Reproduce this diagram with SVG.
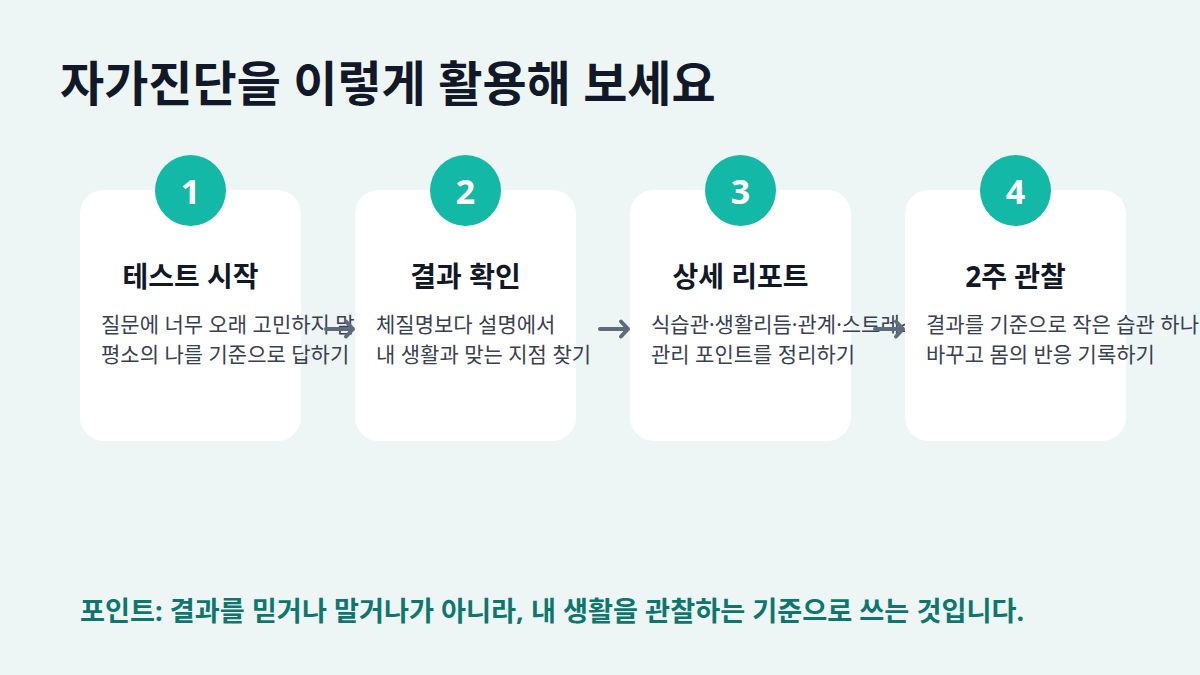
<svg xmlns="http://www.w3.org/2000/svg" width="1200" height="675" viewBox="0 0 1200 675">
<defs>
<style>
.bg{fill:#eef6f5}
.card{fill:#ffffff}
.badge{fill:#14b8a6}
.num{font-family:"Noto Sans","Noto Sans CJK KR",sans-serif;font-weight:700;font-size:34px;fill:#ffffff;text-anchor:middle}
.h1{font-family:"Noto Sans","Noto Sans CJK KR",sans-serif;font-weight:700;font-size:48px;fill:#111827}
.ct{font-family:"Noto Sans","Noto Sans CJK KR",sans-serif;font-weight:700;font-size:28px;fill:#111827;text-anchor:middle}
.body{font-family:"Noto Sans","Noto Sans CJK KR",sans-serif;font-weight:400;font-size:21px;fill:#374151}
.foot{font-family:"Noto Sans","Noto Sans CJK KR",sans-serif;font-weight:700;font-size:27.2px;fill:#0f766e}
.arrow{fill:none;stroke:#5f6b7c;stroke-width:4;stroke-linecap:round;stroke-linejoin:round}
</style>
</defs>
<rect class="bg" x="0" y="0" width="1200" height="675"/>
<text class="h1" x="60" y="101">자가진단을 이렇게 활용해 보세요</text>
<g id="node1">
<rect class="card" x="80" y="190" width="221" height="251" rx="24"/>
<circle class="badge" cx="190.5" cy="190.5" r="35.5"/>
<text class="num" x="190.5" y="204">1</text>
<text class="ct" x="190.5" y="287">테스트 시작</text>
<text class="body" x="101" y="332">질문에 너무 오래 고민하지 말고</text>
<text class="body" x="101" y="362">평소의 나를 기준으로 답하기</text>
</g>
<g id="connectors1">
<path class="arrow" d="M326 329 H353 M346 321.5 L353 329 L346 336.5"/>
</g>
<g id="node2">
<rect class="card" x="355" y="190" width="221" height="251" rx="24"/>
<circle class="badge" cx="465.5" cy="190.5" r="35.5"/>
<text class="num" x="465.5" y="204">2</text>
<text class="ct" x="465.5" y="287">결과 확인</text>
<text class="body" x="376" y="332">체질명보다 설명에서</text>
<text class="body" x="376" y="362">내 생활과 맞는 지점 찾기</text>
</g>
<g id="node3">
<rect class="card" x="630" y="190" width="221" height="251" rx="24"/>
<circle class="badge" cx="740.5" cy="190.5" r="35.5"/>
<text class="num" x="740.5" y="204">3</text>
<text class="ct" x="740.5" y="287">상세 리포트</text>
<text class="body" x="651" y="332">식습관·생활리듬·관계·스트레스</text>
<text class="body" x="651" y="362">관리 포인트를 정리하기</text>
</g>
<g id="connectors">
<path class="arrow" d="M600 329 H628 M621 321.5 L628 329 L621 336.5"/>
<path class="arrow" d="M875 329 H903 M896 321.5 L903 329 L896 336.5"/>
</g>
<g id="node4">
<rect class="card" x="905" y="190" width="221" height="251" rx="24"/>
<circle class="badge" cx="1015.5" cy="190.5" r="35.5"/>
<text class="num" x="1015.5" y="204">4</text>
<text class="ct" x="1015.5" y="287">2주 관찰</text>
<text class="body" x="926" y="332">결과를 기준으로 작은 습관 하나</text>
<text class="body" x="926" y="362">바꾸고 몸의 반응 기록하기</text>
</g>
<text class="foot" x="80" y="621">포인트: 결과를 믿거나 말거나가 아니라, 내 생활을 관찰하는 기준으로 쓰는 것입니다.</text>
</svg>
